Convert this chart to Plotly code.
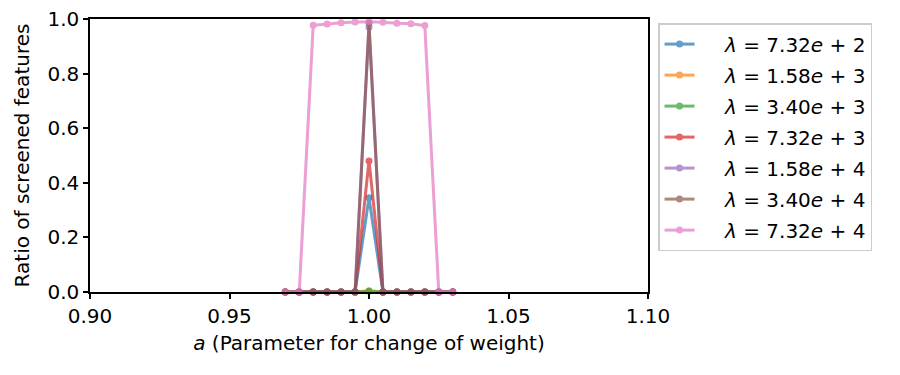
import plotly.graph_objects as go

a_values = [0.97, 0.975, 0.98, 0.985, 0.99, 0.995, 1.0, 1.005, 1.01, 1.015, 1.02, 1.025, 1.03]

lambda_labels = ["7.32<i>e</i> + 2", "1.58<i>e</i> + 3", "3.40<i>e</i> + 3", "7.32<i>e</i> + 3",
                 "1.58<i>e</i> + 4", "3.40<i>e</i> + 4", "7.32<i>e</i> + 4"]

ratio_732e2 = [0, 0, 0, 0, 0, 0, 0.345, 0, 0, 0, 0, 0, 0]
ratio_158e3 = [0, 0, 0, 0, 0, 0, 0.005, 0, 0, 0, 0, 0, 0]
ratio_340e3 = [0, 0, 0, 0, 0, 0, 0.003, 0, 0, 0, 0, 0, 0]
ratio_732e3 = [0, 0, 0, 0, 0, 0, 0.48, 0, 0, 0, 0, 0, 0]
ratio_158e4 = [0, 0, 0, 0, 0, 0, 0.97, 0, 0, 0, 0, 0, 0]
ratio_340e4 = [0, 0, 0, 0, 0, 0, 0.985, 0, 0, 0, 0, 0, 0]
ratio_732e4 = [0, 0, 0.977, 0.982, 0.986, 0.989, 0.99, 0.988, 0.984, 0.983, 0.976, 0, 0]

series = [ratio_732e2, ratio_158e3, ratio_340e3, ratio_732e3, ratio_158e4, ratio_340e4, ratio_732e4]
colors = ["#1f77b4", "#ff7f0e", "#2ca02c", "#d62728", "#9467bd", "#8c564b", "#e377c2"]

fig = go.Figure()
for i, (lab, ys, col) in enumerate(zip(lambda_labels, series, colors)):
    fig.add_trace(go.Scatter(
        x=a_values, y=ys, mode="lines+markers",
        name=f"&nbsp;&nbsp;&nbsp;&nbsp;<i>λ</i> = {lab}",
        legendgroup=f"g{i}",
        line=dict(color=col, width=3),
        marker=dict(color=col, size=7),
        opacity=0.7,
        cliponaxis=False,
    ))

axis_style = dict(
    showgrid=False, zeroline=False, showline=True, linecolor="black", linewidth=1.5,
    mirror=True, ticks="outside", ticklen=5, tickwidth=1.5, tickcolor="black",
    tickfont=dict(size=20, color="black"), automargin=False,
    ticklabeloverflow="allow",
)

fig.update_xaxes(range=[0.9, 1.1], tickvals=[0.9, 0.95, 1.0, 1.05, 1.1],
                 ticktext=["0.90", "0.95", "1.00", "1.05", "1.10"],
                 title=dict(text="<i>a</i> (Parameter for change of weight)", font=dict(size=20, color="black"), standoff=9),
                 **axis_style)
fig.update_yaxes(range=[0, 1.0], tickvals=[0, 0.2, 0.4, 0.6, 0.8, 1.0],
                 ticktext=["0.0", "0.2", "0.4", "0.6", "0.8", "1.0"],
                 title=dict(text="Ratio of screened features", font=dict(size=20, color="black"), standoff=12),
                 **axis_style)

fig.update_layout(
    width=900, height=375,
    margin=dict(l=82, r=260, t=11, b=91),
    paper_bgcolor="white", plot_bgcolor="white",
    font=dict(family="DejaVu Sans", color="black"),
    legend=dict(x=1.018, y=0.985, xanchor="left", yanchor="top",
                bordercolor="#cccccc", borderwidth=1.5, font=dict(size=20),
                tracegroupgap=2),
)

fig.write_html("out.html")
